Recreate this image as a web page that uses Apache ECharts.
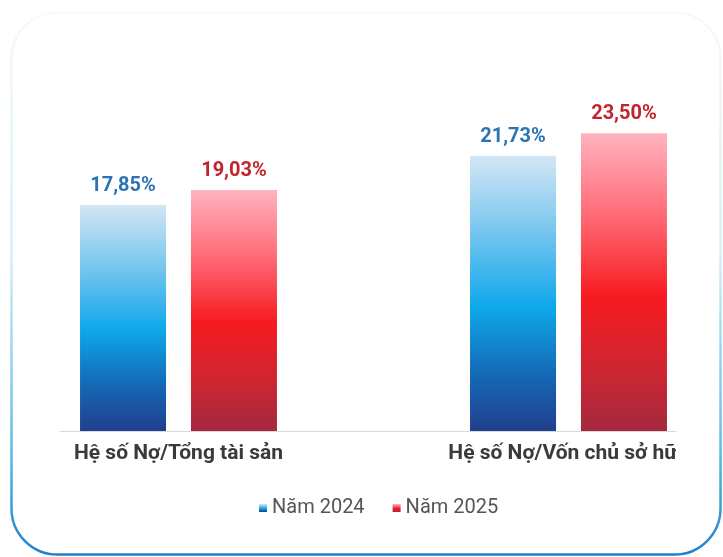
<!DOCTYPE html>
<html>
<head>
<meta charset="utf-8">
<style>
  html, body { margin: 0; padding: 0; background: #ffffff; }
  #chart { width: 723px; height: 557px; }
</style>
<script src="https://cdn.jsdelivr.net/npm/echarts@6/dist/echarts.min.js"></script>
</head>
<body>
<div id="chart"></div>
<script>
const categories = ['Hệ số Nợ/Tổng tài sản', 'Hệ số Nợ/Vốn chủ sở hữu'];
const seriesNames = ['Năm 2024', 'Năm 2025'];
const values2024 = [17.85, 21.73];
const values2025 = [19.03, 23.50];

const chart = echarts.init(document.getElementById('chart'), null, { renderer: 'canvas' });

function grad(stops) {
  return new echarts.graphic.LinearGradient(0, 0, 0, 1, stops.map(s => ({ offset: s[0], color: s[1] })));
}
const blueGrad = grad([[0, '#d3e6f5'], [0.3, '#6ec3ee'], [0.55, '#0fa8ea'], [0.8, '#1468b4'], [1, '#213f8e']]);
const redGrad = grad([[0, '#ffb3bf'], [0.3, '#ff6470'], [0.55, '#f61b20'], [0.8, '#cc2632'], [1, '#a5283f']]);

const fmt = p => p.value.toFixed(2).replace('.', ',') + '%';

chart.setOption({
  backgroundColor: '#ffffff',
  animation: false,
  graphic: [{
    type: 'rect',
    shape: { x: 11.5, y: 12.5, width: 709, height: 542, r: 46 },
    style: {
      fill: 'none',
      lineWidth: 2.5,
      stroke: new echarts.graphic.LinearGradient(0, 0, 0, 1, [
        { offset: 0, color: '#f5fbfe' },
        { offset: 0.45, color: '#d6eef8' },
        { offset: 0.8, color: '#5cbde8' },
        { offset: 1, color: '#1f7fcc' }
      ])
    },
    z: -10
  }, {
    // white panel edge that clips the right part of the chart area, as in the source image
    type: 'rect',
    shape: { x: 676, y: 436, width: 30, height: 44 },
    style: { fill: '#ffffff' },
    z: 100
  }],
  legend: {
    data: seriesNames,
    top: 493,
    left: 254,
    itemWidth: 8,
    itemHeight: 8,
    itemGap: 28,
    icon: 'rect',
    textStyle: { fontFamily: 'Roboto', fontSize: 20, color: '#555555' }
  },
  grid: [
    { left: 178.5, right: 154.5, top: 51, bottom: 126, containLabel: false, outerBoundsMode: 'none' },
    { left: 60, right: 47, top: 51, bottom: 126, containLabel: false, outerBoundsMode: 'none' }
  ],
  xAxis: [{
    type: 'category',
    gridIndex: 0,
    data: categories,
    boundaryGap: false,
    axisLine: { show: false },
    axisTick: { show: false },
    axisLabel: {
      margin: 12,
      fontFamily: 'Roboto',
      fontWeight: 'bold',
      fontSize: 21,
      color: '#3a3a3a'
    }
  }, {
    type: 'value',
    gridIndex: 1,
    min: 0, max: 1,
    axisLine: { show: true, onZero: false, lineStyle: { color: '#d9d9d9', width: 1 } },
    axisTick: { show: false },
    axisLabel: { show: false },
    splitLine: { show: false }
  }],
  yAxis: [{
    type: 'value',
    gridIndex: 0,
    min: 0, max: 30,
    show: false,
    splitLine: { show: false }
  }, {
    type: 'value',
    gridIndex: 1,
    min: 0, max: 1,
    show: false
  }],
  series: [{
    name: seriesNames[0],
    type: 'bar',
    xAxisIndex: 0, yAxisIndex: 0,
    data: values2024,
    barWidth: 86,
    barGap: '29%',
    itemStyle: { color: blueGrad },
    label: {
      show: true, position: 'top', distance: 9,
      formatter: fmt,
      fontFamily: 'Roboto', fontWeight: 'bold', fontSize: 20, color: '#2c73b5'
    }
  }, {
    name: seriesNames[1],
    type: 'bar',
    xAxisIndex: 0, yAxisIndex: 0,
    data: values2025,
    barWidth: 86,
    barGap: '29%',
    itemStyle: { color: redGrad },
    label: {
      show: true, position: 'top', distance: 9,
      formatter: fmt,
      fontFamily: 'Roboto', fontWeight: 'bold', fontSize: 20, color: '#c1242c'
    }
  }]
});
</script>
</body>
</html>
